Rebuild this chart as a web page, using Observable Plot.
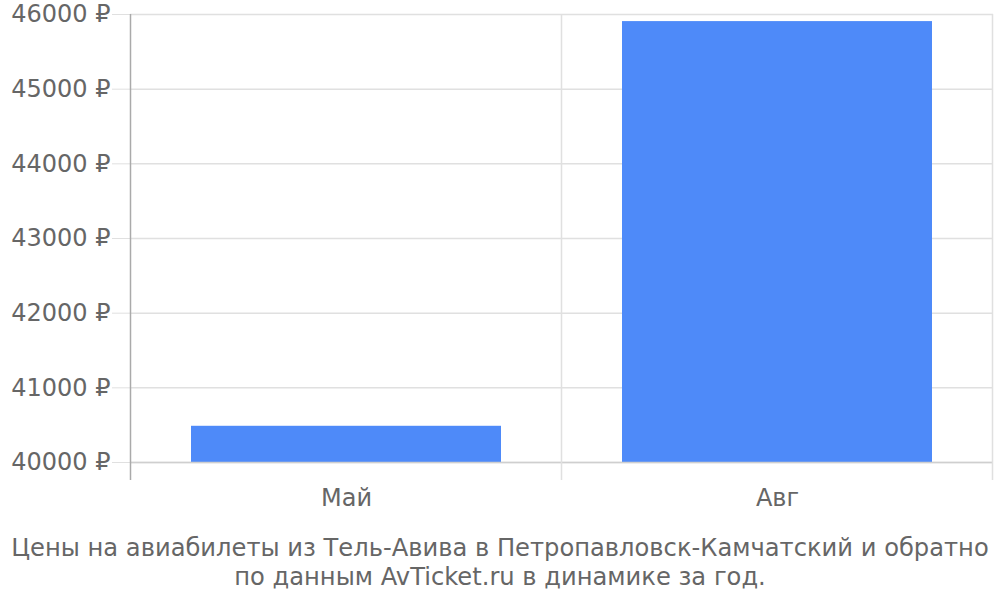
<!DOCTYPE html>
<html>
<head>
<meta charset="utf-8">
<script src="https://cdn.jsdelivr.net/npm/d3@7"></script>
<script src="https://cdn.jsdelivr.net/npm/@observablehq/plot@0.6"></script>
<style>
  html, body { margin: 0; padding: 0; background: #fff; }
  #chart svg { display: block; }
  #caption {
    width: 1000px;
    text-align: center;
    font-family: "DejaVu Sans", sans-serif;
    font-size: 24.2px;
    line-height: 28.5px;
    color: #666;
    padding-top: 14px;
  }
</style>
</head>
<body>
<div id="chart"></div>
<div id="caption">Цены на авиабилеты из Тель-Авива в Петропавловск-Камчатский и обратно<br>по данным AvTicket.ru в динамике за год.</div>
<script>
const months = ["Май", "Авг"];
const prices = [40485, 45905];
const yTicks = [40000, 41000, 42000, 43000, 44000, 45000, 46000];

const data = months.map((m, i) => ({month: m, price: prices[i]}));

const chart = Plot.plot({
  width: 1000,
  height: 520,
  marginLeft: 130,
  marginRight: 7,
  marginTop: 14,
  marginBottom: 58,
  style: {fontFamily: "DejaVu Sans, sans-serif", fontSize: "24px", color: "#666", background: "#fff"},
  x: {domain: months, paddingInner: 0.28, paddingOuter: 0.14, label: null},
  y: {domain: [40000, 46000], ticks: yTicks, label: null},
  marks: [
    Plot.gridY(yTicks, {stroke: "#e0e0e0", strokeOpacity: 1, strokeWidth: 1.5}),
    Plot.barY(data, {x: "month", y1: 40000, y2: "price", fill: "#4e8af9"}),
    Plot.ruleY([40000], {stroke: "#cfcfcf", strokeWidth: 1.5}),
    Plot.axisY(yTicks, {tickSize: 18, tickPadding: 2, tickFormat: d => `${d} ₽`, stroke: "#e0e0e0", strokeOpacity: 1, fill: "#666", fontSize: 24}),
    Plot.axisX({tickSize: 0, tickPadding: 26, fill: "#666", fontSize: 24})
  ]
});

document.getElementById("chart").appendChild(chart);

// vertical separators at band boundaries, derived from the library's x scale
const sx = chart.scale("x");
const sy = chart.scale("y");
const gap = (sx.step - sx.bandwidth) / 2;
const bounds = months.map(m => sx.apply(m) - gap).concat([sx.apply(months[months.length - 1]) + sx.bandwidth + gap]);
const yTop = sy.apply(46000);
const yBot = sy.apply(40000) + 18;
const g = d3.select(chart).append("g");
bounds.forEach((bx, i) => {
  g.append("line")
    .attr("x1", bx).attr("x2", bx)
    .attr("y1", yTop).attr("y2", yBot)
    .attr("stroke", i === 0 ? "#aaa" : "#e0e0e0")
    .attr("stroke-width", 1.5);
});
</script>
</body>
</html>
